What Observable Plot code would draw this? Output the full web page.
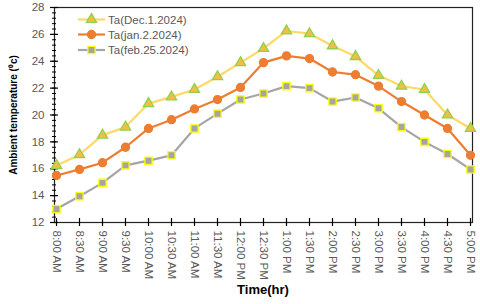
<!DOCTYPE html>
<html>
<head>
<meta charset="utf-8">
<script src="https://cdn.jsdelivr.net/npm/d3@7"></script>
<script src="https://cdn.jsdelivr.net/npm/@observablehq/plot@0.6"></script>
<style>
  html, body { margin: 0; padding: 0; background: #fff; }
  #wrap { position: relative; width: 480px; height: 304px; font-family: "Liberation Sans", Arial, sans-serif; }
  #legend { position: absolute; left: 0; top: 0; }
  #ytitle { position: absolute; left: 13px; top: 115px; transform: translate(-50%, -50%) rotate(-90deg); white-space: nowrap; font-weight: bold; font-size: 10px; color: #000; }
  #xtitle { position: absolute; left: 263px; top: 282px; transform: translateX(-50%); font-weight: bold; font-size: 13px; color: #000; white-space: nowrap; }
</style>
</head>
<body>
<div id="wrap"></div>
<script>
const times = ["8:00 AM","8:30 AM","9:00 AM","9:30 AM","10:00 AM","10:30 AM","11:00 AM","11:30 AM","12:00 PM","12:30 PM","1:00 PM","1:30 PM","2:00 PM","2:30 PM","3:00 PM","3:30 PM","4:00 PM","4:30 PM","5:00 PM"];
const seriesNames = ["Ta(Dec.1.2024)", "Ta(jan.2.2024)", "Ta(feb.25.2024)"];
const dec = [16.25, 17.05, 18.5, 19.1, 20.85, 21.35, 21.9, 22.85, 23.9, 24.95, 26.25, 26.05, 25.15, 24.35, 22.95, 22.15, 21.9, 20.0, 19.0];
const jan = [15.5, 15.95, 16.45, 17.6, 19.0, 19.65, 20.45, 21.15, 22.05, 23.9, 24.4, 24.2, 23.2, 23.0, 22.15, 21.0, 20.0, 19.0, 17.0];
const feb = [13.0, 13.95, 14.95, 16.25, 16.6, 17.0, 19.0, 20.1, 21.15, 21.6, 22.15, 22.0, 21.0, 21.3, 20.5, 19.1, 18.0, 17.1, 15.95];
const yTicks = [12, 14, 16, 18, 20, 22, 24, 26, 28];
const yMinor = d3.range(12, 28.001, 0.4).map(v => +v.toFixed(1));

const styles = [
  {line: "#FFD966", symbol: "triangle", fill: "#F4BE45", stroke: "#8FD14F", r: 3.8},
  {line: "#ED7D31", symbol: "circle", fill: "#ED7D31", stroke: "#ED7D31", r: 4},
  {line: "#A5A5A5", symbol: "square", fill: "#A5A5A5", stroke: "#FFFF00", r: 4.1}
];
const allSeries = [dec, jan, feb];
const rowsFor = vals => times.map((t, i) => ({time: t, value: vals[i]}));

const marks = [];
allSeries.forEach((vals, k) => {
  const s = styles[k];
  marks.push(Plot.lineY(rowsFor(vals), {x: "time", y: "value", stroke: s.line, strokeWidth: 2.2}));
});
allSeries.forEach((vals, k) => {
  const s = styles[k];
  marks.push(Plot.dot(rowsFor(vals), {x: "time", y: "value", symbol: () => s.symbol, fill: s.fill, stroke: s.stroke, strokeWidth: 1.3, r: s.r}));
});

const chart = Plot.plot({
  width: 480,
  height: 304,
  marginLeft: 54,
  marginRight: 8,
  marginTop: 7,
  marginBottom: 82,
  style: {fontFamily: "Liberation Sans, Arial, sans-serif", fontSize: "11px", color: "#595959", background: "#fff"},
  symbol: {type: "identity"},
  x: {type: "point", domain: times, padding: 0, label: null},
  y: {domain: [12, 28], label: null},
  marks: [
    Plot.frame({stroke: "#222", strokeWidth: 1.2}),
    Plot.axisY(yTicks, {tickSize: 0, tickPadding: 10, fill: "#595959", fontSize: 11.5}),
    Plot.axisY(yTicks, {tickSize: 8, dx: 4, tickFormat: () => "", stroke: "#000", strokeWidth: 1.2}),
    Plot.axisY(yMinor, {tickSize: 4, dx: 2, tickFormat: () => "", stroke: "#000", strokeWidth: 1}),
    Plot.axisX(times, {tickSize: 0, tickPadding: 8, tickRotate: 90, fill: "#595959", fontSize: 11.5}),
    Plot.axisX(times, {tickSize: 8, dy: -4, tickFormat: () => "", stroke: "#000", strokeWidth: 1.2}),
    ...marks
  ]
});

const wrap = document.getElementById("wrap");
wrap.appendChild(chart);

const leg = d3.create("svg").attr("id", "legend").attr("width", 480).attr("height", 60);
const rowY = [19.5, 34.5, 50];
seriesNames.forEach((name, k) => {
  const s = styles[k];
  const g = leg.append("g");
  g.append("line").attr("x1", 78).attr("x2", 105).attr("y1", rowY[k]).attr("y2", rowY[k])
    .attr("stroke", s.line).attr("stroke-width", 2.2);
  const sym = s.symbol === "triangle" ? d3.symbolTriangle : s.symbol === "circle" ? d3.symbolCircle : d3.symbolSquare;
  g.append("path").attr("d", d3.symbol(sym, Math.PI * s.r * s.r)())
    .attr("transform", `translate(91.5,${rowY[k]})`)
    .attr("fill", s.fill).attr("stroke", s.stroke).attr("stroke-width", 1.3);
  g.append("text").attr("x", 108).attr("y", rowY[k]).attr("dy", "0.35em")
    .attr("font-size", 11.5).attr("fill", "#595959")
    .attr("font-family", "Liberation Sans, Arial, sans-serif").text(name);
});
wrap.appendChild(leg.node());

const yt = document.createElement("div");
yt.id = "ytitle";
yt.textContent = "Ambient temperature (⁰c)";
wrap.appendChild(yt);
const xt = document.createElement("div");
xt.id = "xtitle";
xt.textContent = "Time(hr)";
wrap.appendChild(xt);
</script>
</body>
</html>
